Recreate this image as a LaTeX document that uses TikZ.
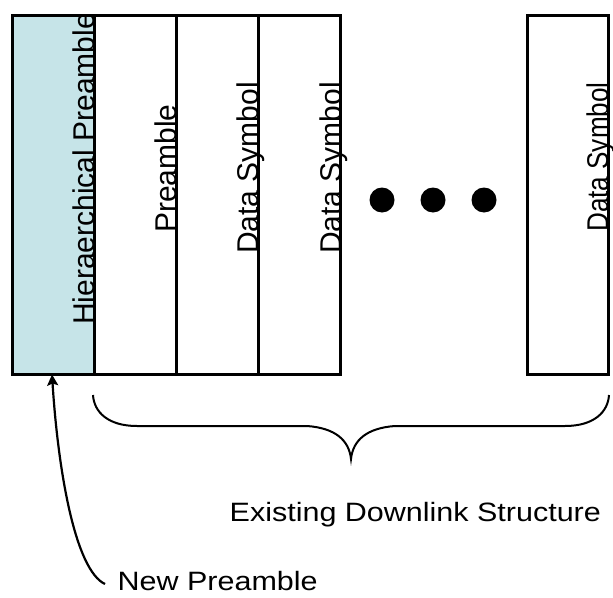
\documentclass[tikz,border=0pt]{standalone}
\usepackage{fontspec}
\setmainfont{Liberation Sans}
\usetikzlibrary{arrows.meta}
\definecolor{hpblue}{RGB}{198,228,232}
\begin{document}
\begin{tikzpicture}[x=1pt,y=-1pt,
  slot/.style={draw=black, line width=3pt, minimum width=82pt, minimum height=359.5pt, inner sep=0pt},
  vlabel/.style={rotate=90, anchor=base west, inner sep=0pt, font=\fontsize{30}{36}\selectfont},
  hlabel/.style={anchor=base west, inner sep=0pt, font=\fontsize{30.5}{36}\selectfont},
  dot/.style={circle, fill=black, minimum size=25pt, inner sep=0pt},
  pointer/.style={line width=2.2pt, -{Stealth[length=11pt, width=11pt, inset=2pt]}},
  bracepath/.style={line width=2pt}]
\useasboundingbox (0,0) rectangle (613,597);
% slots
\node[slot, fill=hpblue] (r1) at (53.25,194.75) {};
\node[slot] (r2) at (135.25,194.75) {};
\node[slot] (r3) at (217.25,194.75) {};
\node[slot] (r4) at (299.5,194.75) {};
\node[slot, minimum width=81pt] (r5) at (567.5,194.75) {};
% labels
\begin{scope}
\clip (12,15) rectangle (100,374);
\node[vlabel] (t1) at (94.5,325) {Hieraerchical Preamble};
\end{scope}
\node[vlabel] (t2) at (176,233) {Preamble};
\node[vlabel] (t3) at (258.5,254) {Data Symbol};
\node[vlabel] (t4) at (341,254) {Data Symbol};
\node[vlabel] (t5) at (608,232) {\scalebox{0.87}[1]{Data Symbol}};
% dots
\node[dot] (d1) at (382,200) {};
\node[dot] (d2) at (433,200) {};
\node[dot] (d3) at (484,200) {};
% brace
\draw[bracepath] (93,395) .. controls (94,412) and (108,426) .. (137,426) -- (307,426)
  .. controls (335,428) and (349,440) .. (351,459)
  .. controls (353,440) and (367,428) .. (395,426) -- (565,426)
  .. controls (594,426) and (608,412) .. (609,395);
% texts
\node[hlabel] (exist) at (229.5,521) {\scalebox{1}[0.87]{Existing Downlink Structure}};
\node[hlabel] (newp) at (117.5,590) {\scalebox{1}[0.87]{New Preamble}};
% arrow
\coordinate (tail) at (105,584);
\coordinate (tip) at (52,374.5);
\draw[pointer] (tail) .. controls (75,570) and (58,470) .. (tip);
\end{tikzpicture}
\end{document}
